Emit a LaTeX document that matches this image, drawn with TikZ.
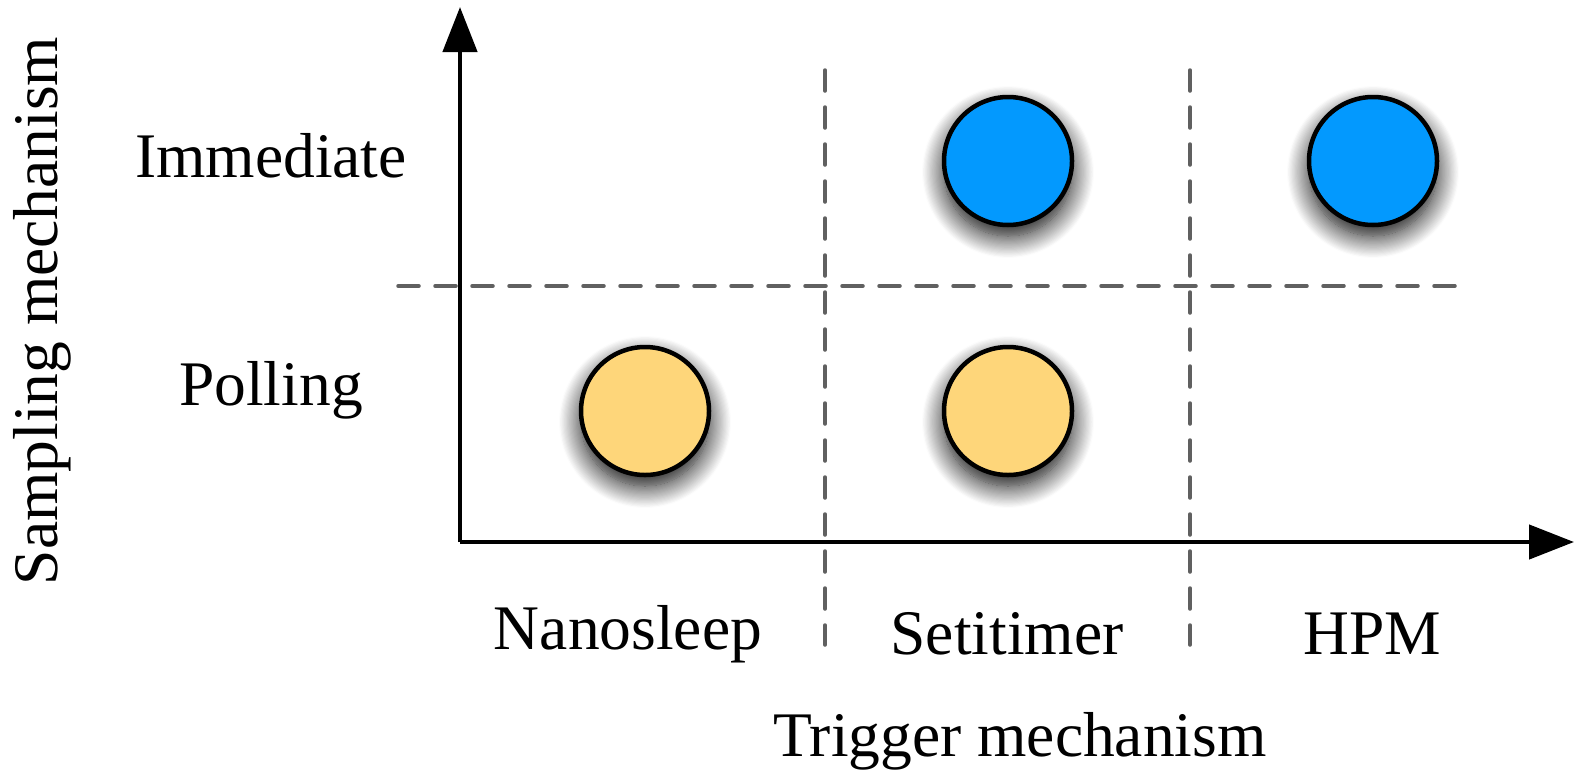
\documentclass[tikz,border=0pt]{standalone}
\usepackage{fontspec}
\setmainfont{Liberation Serif}
\usetikzlibrary{arrows.meta,shadows.blur}
\definecolor{dotblue}{HTML}{0399FE}
\definecolor{dotyellow}{HTML}{FED67A}
\definecolor{gridgray}{HTML}{606060}
\tikzset{
  axis/.style={line width=4.5pt,-{Triangle[length=45pt,width=34pt]}},
  divider/.style={gridgray,line width=3.5pt,dash pattern=on 21pt off 16pt,line cap=round},
  dot/.style={circle,draw=black,line width=4.5pt,minimum size=128pt,inner sep=0pt,
    blur shadow={shadow xshift=0pt,shadow yshift=-11pt,shadow blur radius=22pt,shadow blur steps=20,shadow opacity=100}},
  label/.style={font=\fontsize{63.5}{70}\selectfont,inner sep=0pt}
}
\begin{document}
\begin{tikzpicture}[x=1pt,y=-1pt]
\useasboundingbox (0,0) rectangle (1574,774);
% grid of categories
\coordinate (hl) at (398,286);
\coordinate (hr) at (1455,286);
\coordinate (v1t) at (825,70);
\coordinate (v1b) at (825,645);
\coordinate (v2t) at (1190,70);
\coordinate (v2b) at (1190,645);
\draw[divider] (hl) -- (hr);
\draw[divider] (v1t) -- (v1b);
\draw[divider] (v2t) -- (v2b);
% axes
\coordinate (O) at (460,542);
\coordinate (ytip) at (460,7);
\coordinate (xtip) at (1574,542);
\draw[axis] (O) -- (ytip);
\draw[axis] (O) -- (xtip);
% combinations
\node[dot,fill=dotblue] (setimm) at (1008,161) {};
\node[dot,fill=dotblue] (hpmimm) at (1373,161) {};
\node[dot,fill=dotyellow] (nanopoll) at (645,411) {};
\node[dot,fill=dotyellow] (setpoll) at (1008,411) {};
% labels
\node[label] (immediate) at (271,156) {Immediate};
\node[label] (polling) at (271,390) {Polling};
\node[label] (nanosleep) at (628,634) {Nanosleep};
\node[label] (setitimer) at (1007,634) {Setitimer};
\node[label] (hpm) at (1372,634) {HPM};
\node[label] (trigger) at (1020,741) {Trigger mechanism};
\node[label,rotate=90] (sampling) at (42,311) {Sampling mechanism};
\end{tikzpicture}
\end{document}
